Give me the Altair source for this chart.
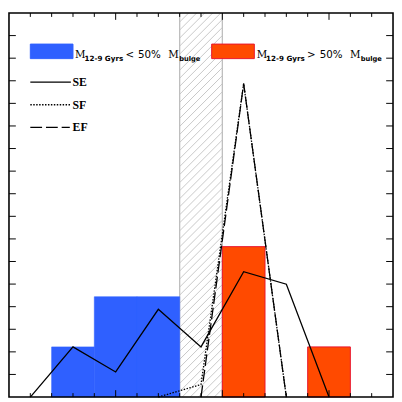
import altair as alt
import pandas as pd
import numpy as np

# ---------------- data (x in tick units, y in counts) ----------------
blue_left = [2, 4, 6]
blue_right = [4, 6, 8]
blue_count = [1, 2, 2]

red_left = [10, 14]
red_right = [12, 16]
red_count = [3, 1]

se_x = [1, 3, 5, 7, 9, 11, 13, 15]
se_y = [0, 1, 0.5, 1.75, 1, 2.5, 2.25, 0]
sf_x = [7, 9, 11, 13]
sf_y = [0, 0.25, 6.25, 0]
ef_x = [9, 11, 13]
ef_y = [0, 6.25, 0]

hatch_band = [8, 10]

XMAX = 18
YMAX = 7.66
W = 392
H = 392

xs = alt.Scale(domain=[0, XMAX], nice=False, zero=False)
ys = alt.Scale(domain=[0, YMAX], nice=False, zero=False)

# ---------------- hatch band ----------------
px_x = W / XMAX
px_y = H / YMAX
rise = (hatch_band[1] - hatch_band[0]) * px_x / px_y
step = 8.2 / px_y
y0s = np.arange(-rise, YMAX + step, step)
hatch_df = pd.DataFrame({"x": hatch_band[0], "x2": hatch_band[1], "y": y0s, "y2": y0s + rise})
hatch = alt.Chart(hatch_df).mark_rule(color="#c8c8c8", strokeWidth=1, clip=True).encode(
    x=alt.X("x:Q", scale=xs, axis=None), x2="x2:Q",
    y=alt.Y("y:Q", scale=ys, axis=None), y2="y2:Q")
band_edges = alt.Chart(pd.DataFrame({"x": hatch_band})).mark_rule(color="#bdbdbd", strokeWidth=1.3).encode(
    x=alt.X("x:Q", scale=xs, axis=None))

# ---------------- bars ----------------
blue_df = pd.DataFrame({"l": blue_left, "r": blue_right, "c": blue_count, "z": 0})
red_df = pd.DataFrame({"l": red_left, "r": red_right, "c": red_count, "z": 0})
blue = alt.Chart(blue_df).mark_rect(fill="#2f60ff", stroke="#2f60ff", strokeWidth=0.6).encode(
    x=alt.X("l:Q", scale=xs, axis=None), x2="r:Q",
    y=alt.Y("c:Q", scale=ys, axis=None), y2="z:Q")
red = alt.Chart(red_df).mark_rect(fill="#ff4a00", stroke="#e8142c", strokeWidth=1).encode(
    x=alt.X("l:Q", scale=xs, axis=None), x2="r:Q",
    y=alt.Y("c:Q", scale=ys, axis=None), y2="z:Q")

# ---------------- lines ----------------
def line(xv, yv, dash=None):
    kw = dict(color="black", strokeWidth=1.3)
    if dash:
        kw["strokeDash"] = dash
    return alt.Chart(pd.DataFrame({"x": xv, "y": yv})).mark_line(**kw).encode(
        x=alt.X("x:Q", scale=xs, axis=None), y=alt.Y("y:Q", scale=ys, axis=None))

se = line(se_x, se_y)
sf = line(sf_x, sf_y, [1.5, 1.5])
ef = line(ef_x, ef_y, [12, 4])

# ---------------- legend ----------------
RED_SHIFT = 8.51
sw_df = pd.DataFrame({"l": [1, 9.5], "r": [3, 11.5], "b": [6.75, 6.75], "t": [7.04, 7.04],
                      "f": ["#2f60ff", "#ff4a00"], "s": ["#2f60ff", "#e8142c"]})
swatch = alt.Chart(sw_df).mark_rect(strokeWidth=1).encode(
    x=alt.X("l:Q", scale=xs, axis=None), x2="r:Q",
    y=alt.Y("b:Q", scale=ys, axis=None), y2="t:Q",
    fill=alt.Fill("f:N", scale=None), stroke=alt.Stroke("s:N", scale=None))

def texts(xv, yv, labels, font, size, weight="normal", baseline="alphabetic"):
    return alt.Chart(pd.DataFrame({"x": xv, "y": yv, "t": labels})).mark_text(
        align="left", baseline=baseline, font=font, fontSize=size, fontWeight=weight, color="black").encode(
        x=alt.X("x:Q", scale=xs, axis=None), y=alt.Y("y:Q", scale=ys, axis=None), text="t:N")

def pair(x):
    return [x, x + RED_SHIFT]

t_m1 = texts(pair(3.10), [6.77, 6.77], ["M", "M"], "DejaVu Serif", 10.5)
t_sub1 = texts(pair(3.54), [6.70, 6.70], ["12-9 Gyrs", "12-9 Gyrs"], "DejaVu Sans", 7.3, "bold")
t_cmp = texts(pair(5.46), [6.77, 6.77], ["<", ">"], "DejaVu Sans", 10.5)
t_pct = texts(pair(6.05), [6.77, 6.77], ["50%", "50%"], "DejaVu Sans", 10.5)
t_m2 = texts(pair(7.47), [6.77, 6.77], ["M", "M"], "DejaVu Serif", 10.5)
t_sub2 = texts(pair(7.98), [6.70, 6.70], ["bulge", "bulge"], "DejaVu Sans", 6.8, "bold")

leg_y = [6.28, 5.83, 5.38]
leg_se = line([1, 2.9], [leg_y[0]] * 2)
leg_sf = line([1, 2.9], [leg_y[1]] * 2, [1.5, 1.5])
leg_ef = line([1, 2.85], [leg_y[2]] * 2, [12, 4])
t_lines = texts([2.98, 2.98, 2.98], leg_y, ["SE", "SF", "EF"], "Liberation Serif", 12, "bold", "middle")

# ---------------- ticks & frame ----------------
xt_minor = [v for v in range(1, XMAX) if v % 5 != 0]
xt_major = [5, 10, 15]
y_ticks = [i * YMAX / 17 for i in range(1, 17)]

def xticks(vals, length):
    d = pd.DataFrame({"x": vals})
    bot = alt.Chart(d).mark_rule(color="black", strokeWidth=1).encode(
        x=alt.X("x:Q", scale=xs, axis=None), y=alt.value(H), y2=alt.value(H - length))
    top = alt.Chart(d).mark_rule(color="black", strokeWidth=1).encode(
        x=alt.X("x:Q", scale=xs, axis=None), y=alt.value(0), y2=alt.value(length))
    return bot + top

d_y = pd.DataFrame({"y": y_ticks})
yt_left = alt.Chart(d_y).mark_rule(color="black", strokeWidth=1).encode(
    y=alt.Y("y:Q", scale=ys, axis=None), x=alt.value(0), x2=alt.value(7))
yt_right = alt.Chart(d_y).mark_rule(color="black", strokeWidth=1).encode(
    y=alt.Y("y:Q", scale=ys, axis=None), x=alt.value(W), x2=alt.value(W - 7))

frame = alt.Chart(pd.DataFrame({"a": [0]})).mark_rect(filled=False, stroke="black", strokeWidth=1.6).encode(
    x=alt.value(0), x2=alt.value(W), y=alt.value(0), y2=alt.value(H))

chart = alt.layer(
    hatch, band_edges, blue, red, se, sf, ef,
    swatch, t_m1, t_sub1, t_cmp, t_pct, t_m2, t_sub2,
    leg_se, leg_sf, leg_ef, t_lines,
    xticks(xt_minor, 4), xticks(xt_major, 7), yt_left, yt_right, frame
).properties(width=W, height=H, padding=0).configure_view(stroke=None)

chart.save("out.html", embed_options={"renderer": "svg", "actions": False})
